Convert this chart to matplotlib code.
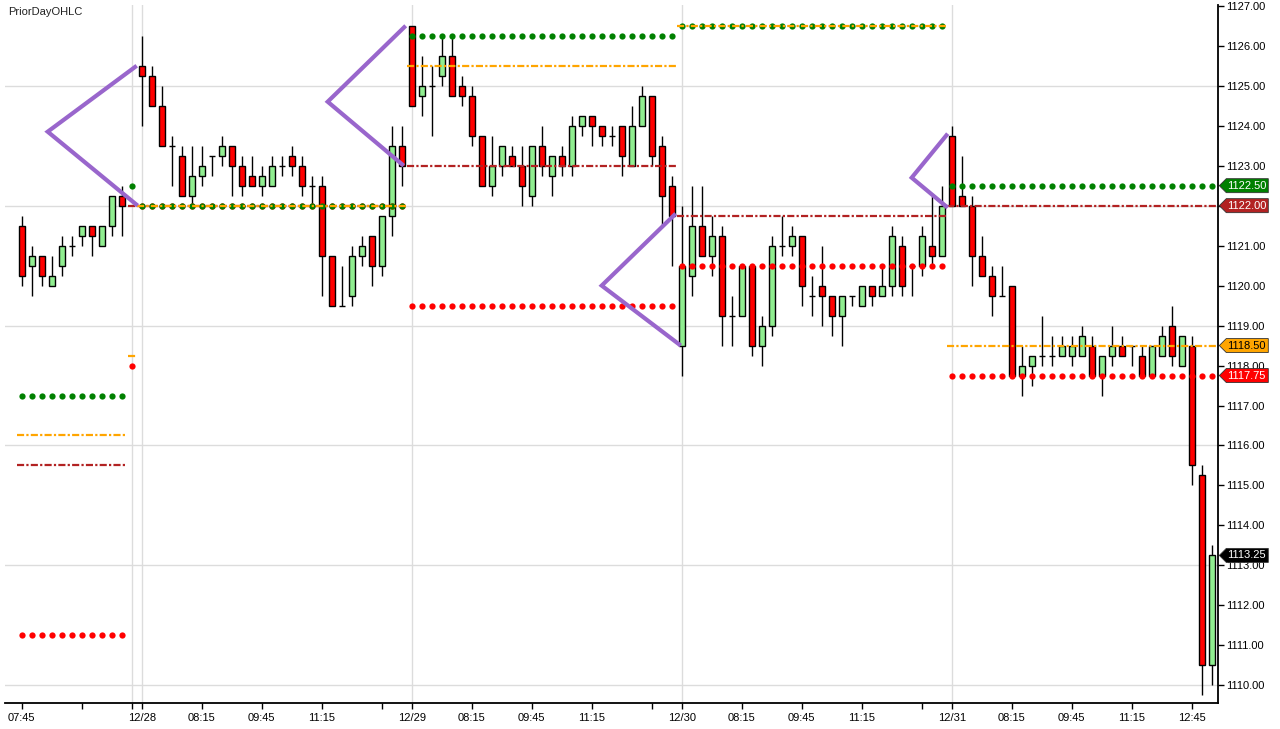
import matplotlib
matplotlib.use("Agg")
import matplotlib.pyplot as plt
import matplotlib.transforms as mtransforms
from matplotlib.patches import Polygon
import numpy as np

plt.rcParams['font.family'] = ['Liberation Sans', 'DejaVu Sans']

# ---------------- data ----------------
opens = [1121.5, 1120.5, 1120.75, 1120.0, 1120.5, 1121.0, 1121.25, 1121.5, 1121.0, 1121.5, 1122.25,
         np.nan,
         1125.5, 1125.25, 1124.5, 1123.5, 1123.25, 1122.25, 1122.75, 1123.25, 1123.25, 1123.5,
         1123.0, 1122.75, 1122.5, 1122.5, 1123.0, 1123.25, 1123.0, 1122.5, 1122.5, 1120.75,
         1119.5, 1119.75, 1120.75, 1121.25, 1120.5, 1121.75, 1123.5,
         1126.5, 1124.75, 1125.0, 1125.25, 1125.75, 1125.0, 1124.75, 1123.75, 1122.5, 1123.0,
         1123.25, 1123.0, 1122.25, 1123.5, 1122.75, 1123.25, 1123.0, 1124.0, 1124.25, 1124.0,
         1123.75, 1124.0, 1123.0, 1124.0, 1124.75, 1123.5, 1122.5,
         1118.5, 1120.25, 1121.5, 1120.75, 1121.25, 1119.25, 1119.25, 1120.5, 1118.5, 1119.0,
         1121.0, 1121.0, 1121.25, 1119.75, 1120.0, 1119.75, 1119.25, 1119.75, 1119.5, 1120.0,
         1119.75, 1120.0, 1121.0, 1120.5, 1120.5, 1121.0, 1120.75,
         1123.75, 1122.25, 1122.0, 1120.75, 1120.25, 1119.75, 1120.0, 1117.75, 1118.0, 1118.25,
         1118.25, 1118.25, 1118.25, 1118.25, 1118.5, 1117.75, 1118.25, 1118.5, 1118.5, 1118.25,
         1117.75, 1118.25, 1119.0, 1118.0, 1118.5, 1115.25, 1110.5]
highs = [1121.75, 1121.0, 1120.75, 1120.75, 1121.25, 1121.25, 1121.5, 1121.5, 1121.5, 1122.25, 1122.5,
         np.nan,
         1126.25, 1125.5, 1125.0, 1123.75, 1123.5, 1123.5, 1123.5, 1123.25, 1123.75, 1123.5,
         1123.25, 1123.25, 1123.0, 1123.25, 1123.25, 1123.5, 1123.25, 1122.75, 1122.75, 1120.75,
         1120.5, 1121.0, 1121.25, 1121.25, 1121.75, 1124.0, 1124.0,
         1126.5, 1125.75, 1125.5, 1126.25, 1126.25, 1125.25, 1125.0, 1123.75, 1123.75, 1123.5,
         1123.5, 1123.5, 1123.5, 1124.0, 1123.25, 1123.5, 1124.25, 1124.25, 1124.25, 1124.0,
         1124.0, 1124.0, 1124.5, 1125.0, 1124.75, 1123.75, 1122.75,
         1122.0, 1122.5, 1122.5, 1121.75, 1121.5, 1119.75, 1120.5, 1120.5, 1119.25, 1121.25,
         1121.75, 1121.5, 1121.25, 1120.25, 1121.0, 1119.75, 1119.75, 1119.75, 1120.0, 1120.0,
         1120.5, 1121.5, 1121.25, 1120.5, 1121.5, 1122.25, 1122.5,
         1124.0, 1123.25, 1122.25, 1121.25, 1120.5, 1120.5, 1120.0, 1118.5, 1118.25, 1119.25,
         1118.75, 1118.75, 1118.75, 1119.0, 1118.75, 1118.25, 1119.0, 1118.75, 1118.5, 1118.5,
         1118.5, 1119.0, 1119.5, 1118.75, 1118.75, 1115.5, 1113.5]
lows = [1120.0, 1119.75, 1120.0, 1120.0, 1120.25, 1120.75, 1121.0, 1120.75, 1121.0, 1121.25, 1121.25,
        np.nan,
        1124.0, 1124.5, 1123.5, 1122.5, 1122.25, 1122.0, 1122.5, 1122.75, 1123.0, 1122.25,
        1122.25, 1122.5, 1122.25, 1122.5, 1122.75, 1122.75, 1122.25, 1122.0, 1119.75, 1119.5,
        1119.5, 1119.5, 1120.5, 1120.0, 1120.25, 1121.25, 1122.5,
        1124.5, 1124.25, 1123.75, 1125.0, 1124.75, 1124.5, 1123.5, 1122.5, 1122.25, 1122.75,
        1123.0, 1122.0, 1122.0, 1122.75, 1122.25, 1122.75, 1122.75, 1123.75, 1123.5, 1123.5,
        1123.5, 1122.75, 1123.0, 1124.0, 1123.0, 1121.5, 1120.5,
        1117.75, 1119.75, 1120.75, 1120.25, 1118.5, 1118.5, 1119.25, 1118.25, 1118.0, 1118.75,
        1120.75, 1120.75, 1119.5, 1119.25, 1119.0, 1118.75, 1118.5, 1119.5, 1119.5, 1119.5,
        1119.75, 1119.75, 1119.75, 1119.75, 1120.25, 1120.5, 1120.75,
        1122.0, 1122.0, 1120.0, 1120.25, 1119.25, 1119.75, 1117.75, 1117.25, 1117.5, 1118.0,
        1118.0, 1118.25, 1118.0, 1118.25, 1117.75, 1117.25, 1118.0, 1118.25, 1118.0, 1117.75,
        1117.75, 1118.25, 1118.0, 1118.0, 1115.0, 1109.75, 1110.0]
closes = [1120.25, 1120.75, 1120.25, 1120.25, 1121.0, 1121.0, 1121.5, 1121.25, 1121.5, 1122.25, 1122.0,
          np.nan,
          1125.25, 1124.5, 1123.5, 1123.5, 1122.25, 1122.75, 1123.0, 1123.25, 1123.5, 1123.0,
          1122.5, 1122.5, 1122.75, 1123.0, 1123.0, 1123.0, 1122.5, 1122.5, 1120.75, 1119.5,
          1119.5, 1120.75, 1121.0, 1120.5, 1121.75, 1123.5, 1123.0,
          1124.5, 1125.0, 1125.0, 1125.75, 1124.75, 1124.75, 1123.75, 1122.5, 1123.0, 1123.5,
          1123.0, 1122.5, 1123.5, 1123.0, 1123.25, 1123.0, 1124.0, 1124.25, 1124.0, 1123.75,
          1123.75, 1123.25, 1124.0, 1124.75, 1123.25, 1122.25, 1121.75,
          1120.5, 1121.5, 1120.75, 1121.25, 1119.25, 1119.25, 1120.5, 1118.5, 1119.0, 1121.0,
          1121.0, 1121.25, 1120.0, 1119.75, 1119.75, 1119.25, 1119.75, 1119.75, 1120.0, 1119.75,
          1120.0, 1121.25, 1120.0, 1120.5, 1121.25, 1120.75, 1122.0,
          1122.0, 1122.0, 1120.75, 1120.25, 1119.75, 1119.75, 1117.75, 1118.0, 1118.25, 1118.25,
          1118.25, 1118.5, 1118.5, 1118.75, 1117.75, 1118.25, 1118.5, 1118.25, 1118.5, 1117.75,
          1118.5, 1118.75, 1118.25, 1118.75, 1115.5, 1110.5, 1113.25]

# sessions (first bar index, last bar index) and prior-day levels drawn over them
session_start = [0, 12, 39, 66, 93]
session_end = [10, 38, 65, 92, 119]
prior_high = [1117.25, 1122.0, 1126.25, 1126.5, 1122.5]
prior_low = [1111.25, 1122.0, 1119.5, 1120.5, 1117.75]
prior_open = [1116.25, 1122.0, 1125.5, 1126.5, 1118.5]
prior_close = [1115.5, 1122.0, 1123.0, 1121.75, 1122.0]
# the single empty slot between sessions
gap_index = 11
gap_high, gap_low, gap_open, gap_close = 1122.5, 1118.0, 1118.25, 1122.0

tick_pos = [0, 6, 11, 12, 18, 24, 30, 36, 39, 45, 51, 57, 63, 66, 72, 78, 84, 90, 93, 99, 105, 111, 117]
tick_lbl = ['07:45', '', '', '12/28', '08:15', '09:45', '11:15', '', '12/29', '08:15', '09:45', '11:15', '',
            '12/30', '08:15', '09:45', '11:15', '', '12/31', '08:15', '09:45', '11:15', '12:45']
day_lines = [11, 12, 39, 66, 93]

# purple hand-drawn chevrons (bar index, price)
chev_x = [[11.5, 2.6, 11.6], [38.4, 30.6, 38.2], [65.4, 58.0, 65.9], [92.6, 89.0, 92.6]]
chev_y = [[1125.5, 1123.85, 1122.0], [1126.5, 1124.6, 1123.0], [1121.8, 1120.0, 1118.5], [1123.8, 1122.7, 1121.95]]

# ---------------- figure ----------------
W, H = 1280, 729
fig = plt.figure(figsize=(12.8, 7.29), dpi=100)
ax_l, ax_r, ax_t, ax_b = 5, 1218.3, 5, 703.3
ax = fig.add_axes([ax_l / W, (H - ax_b) / H, (ax_r - ax_l) / W, (ax_b - ax_t) / H])
ax.set_xlim(-1.67, 119.66)
ax.set_ylim(1109.55, 1127.02)

# grid
for yv in [1110, 1113, 1116, 1119, 1122, 1125]:
    ax.axhline(yv, color='#dcdcdc', lw=1.0, zorder=0)
for xv in day_lines:
    ax.axvline(xv, color='#dcdcdc', lw=1.0, zorder=0)

# candles
x = np.arange(len(opens))
o = np.array(opens); h = np.array(highs); l = np.array(lows); c = np.array(closes)
valid = ~np.isnan(o)
xv_ = x[valid]
ax.vlines(xv_, l[valid], h[valid], color='black', lw=1.0, zorder=2)
body_bottom = np.minimum(o, c)[valid]
body_h = np.abs(c - o)[valid]
cols = np.where(c[valid] >= o[valid], '#90ee90', '#ff0000')
ax.bar(xv_, body_h, bottom=body_bottom, width=0.62, color=cols, edgecolor='black', linewidth=1.0, zorder=3)

# prior day levels
MS = 4.5
dash_pat = (0, (3.2, 1.0, 1.0, 1.0))
for s, e, hi, lo, op, cl in zip(session_start, session_end, prior_high, prior_low, prior_open, prior_close):
    xs = np.arange(s, e + 1)
    ax.plot(xs, [lo] * len(xs), ls='none', marker='o', ms=MS, color='#ff0000', mec='none', zorder=4)
    ax.plot([s - 0.5, e + 0.5], [cl, cl], color='#b22222', lw=1.6, ls=dash_pat, zorder=4)
    ax.plot(xs, [hi] * len(xs), ls='none', marker='o', ms=MS, color='#008000', mec='none', zorder=4)
    ax.plot([s - 0.5, e + 0.5], [op, op], color='#ffa500', lw=1.6, ls=dash_pat, zorder=4.5)
ax.plot([gap_index], [gap_high], marker='o', ms=MS, color='#008000', mec='none', zorder=4)
ax.plot([gap_index], [gap_low], marker='o', ms=MS, color='#ff0000', mec='none', zorder=4)
ax.plot([gap_index - 0.4, gap_index + 0.4], [gap_open] * 2, color='#ffa500', lw=1.6, ls=dash_pat, zorder=4)
ax.plot([gap_index - 0.4, gap_index + 0.4], [gap_close] * 2, color='#b22222', lw=1.6, ls=dash_pat, zorder=4)

# chevrons
for cx, cy in zip(chev_x, chev_y):
    ax.plot(cx, cy, color='#9966cc', lw=3.0, solid_capstyle='butt', solid_joinstyle='miter', zorder=6)

# axes styling
for sp in ['top', 'left']:
    ax.spines[sp].set_visible(False)
for sp in ['right', 'bottom']:
    ax.spines[sp].set_color('black')
    ax.spines[sp].set_linewidth(1.3)
ax.yaxis.tick_right()
ax.set_yticks(np.arange(1110, 1128, 1))
ax.set_yticklabels([f'{v:.2f}' for v in np.arange(1110, 1128, 1)])
ax.set_xticks(tick_pos)
ax.set_xticklabels(tick_lbl)
ax.tick_params(axis='y', direction='out', length=4, width=1, pad=1.5, labelsize=8, colors='black')
ax.tick_params(axis='x', direction='out', length=4, width=1, pad=3, labelsize=8, colors='black')
ax.patch.set_facecolor('white')

fig.text(8 / W, 1 - 12 / H, 'PriorDayOHLC', fontsize=8, color='#222222', va='center', ha='left')

# right-side value flags
axes_w_px = ax_r - ax_l
px_per_price = (ax_b - ax_t) / (1127.02 - 1109.55)
blend = mtransforms.blended_transform_factory(ax.transAxes, ax.transData)
flag_vals = [prior_high[-1], prior_close[-1], prior_open[-1], prior_low[-1], closes[-1]]
flag_face = ['#008000', '#b22222', '#ffa500', '#ff0000', '#000000']
flag_text = ['white', 'white', 'black', 'white', 'white']
for v, fc, tc in zip(flag_vals, flag_face, flag_text):
    hh = 7.0 / px_per_price
    x0 = 1.0 + 1.0 / axes_w_px
    x1 = 1.0 + 8.0 / axes_w_px
    x2 = 1.0 + 50.0 / axes_w_px
    poly = Polygon([[x0, v], [x1, v + hh], [x2, v + hh], [x2, v - hh], [x1, v - hh]], closed=True,
                   transform=blend, facecolor=fc, edgecolor='#333333', lw=0.6, clip_on=False, zorder=10)
    ax.add_patch(poly)
    ax.text(1.0 + 9.0 / axes_w_px, v, f'{v:.2f}', transform=blend, color=tc, fontsize=8,
            va='center', ha='left', clip_on=False, zorder=11)

fig.savefig('out.png', dpi=100, facecolor='white')
